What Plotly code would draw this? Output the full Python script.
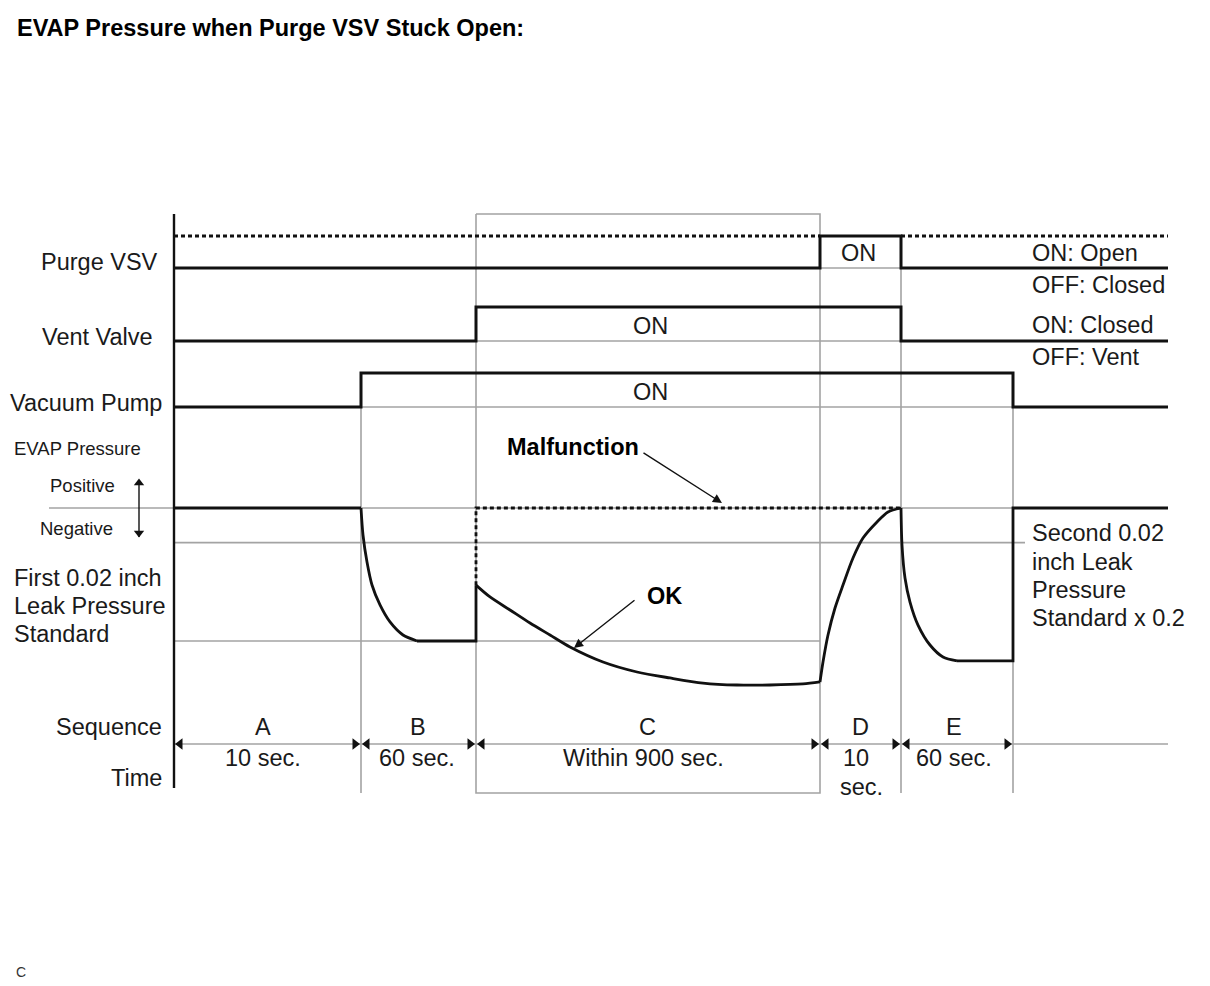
import plotly.graph_objects as go

# ---------------- data ----------------
# phase boundaries along the diagram's time axis (diagram units)
boundary_x = [174, 361, 476, 820, 901, 1013, 1168]
sequence = ["A", "B", "C", "D", "E"]
durations = ["10 sec.", "60 sec.", "Within 900 sec.", "10", "60 sec."]
seq_label_x = [263, 418, 647, 860, 954]
dur_label_x = [263, 417, 643, 856, 954]

# on/off states per interval (A, B, C, D, E, after E)
purge_vsv = [0, 0, 0, 1, 0, 0]
vent_valve = [0, 0, 1, 1, 0, 0]
vacuum_pump = [0, 1, 1, 1, 1, 0]

# EVAP pressure (relative: 0 = atmospheric, -1 = first 0.02 inch leak standard)
evap_a_x = [174, 361]
evap_a_p = [0, 0]
evap_b_x = [361, 363, 367, 372, 380, 390, 403, 417]
evap_b_p = [0, -0.203, -0.406, -0.579, -0.729, -0.857, -0.955, -1.0]
evap_b_hold_x = [417, 476, 476]
evap_b_hold_p = [-1.0, -1.0, -0.58]
evap_c_x = [476, 490, 510, 530, 550, 570, 603, 637, 670, 703, 737, 770, 803, 820]
evap_c_p = [-0.58, -0.669, -0.767, -0.865, -0.955, -1.045, -1.158, -1.233, -1.278, -1.316, -1.331, -1.331, -1.323, -1.308]
evap_d_x = [820, 823, 828, 835, 843, 853, 863, 877, 888, 901]
evap_d_p = [-1.308, -1.158, -0.955, -0.752, -0.579, -0.376, -0.226, -0.105, -0.03, 0]
evap_e_x = [901, 902, 905, 910, 918, 930, 943, 957]
evap_e_p = [0, -0.278, -0.526, -0.707, -0.88, -1.03, -1.12, -1.15]
evap_e_hold_x = [957, 1013, 1013, 1168]
evap_e_hold_p = [-1.15, -1.15, 0, 0]
evap_malf_x = [476, 476, 901]
evap_malf_p = [-0.58, 0, 0]
evap_ref_levels = [0, -0.26, -1.0]          # zero, second, first standard lines
evap_ref_ends = [1168, 1025, 820]

# ---------------- layout constants ----------------
BLACK = "#111111"
GRAY = "#a3a3a3"
FONT = "Liberation Sans, Arial, sans-serif"
FS = 23.5
FS_SMALL = 18.5
rows = {"purge": (268, 236), "vent": (341, 307), "pump": (407, 373)}  # (low y, high y)
EVAP_ZERO_Y = 508
EVAP_SCALE = 133
SEQ_Y = 744
X0 = boundary_x[0]
X_END = boundary_x[-1]


def evap_y(p):
    return EVAP_ZERO_Y - p * EVAP_SCALE


def step_xy(states, low, high):
    xs, ys = [], []
    for i, s in enumerate(states):
        y = high if s else low
        xs += [boundary_x[i], boundary_x[i + 1]]
        ys += [y, y]
    return xs, ys


fig = go.Figure()


def line(xs, ys, color=BLACK, width=3, dash=None, shape="linear"):
    ld = dict(color=color, width=width, dash=dash, shape=shape)
    if shape == "spline":
        ld["smoothing"] = 0.8
    fig.add_trace(go.Scatter(x=xs, y=ys, mode="lines", hoverinfo="skip", line=ld))


# gray frame lines
BOT = 793
line([boundary_x[2], boundary_x[2], boundary_x[3], boundary_x[3], boundary_x[2]],
     [214, BOT, BOT, 214, 214], GRAY, 1.6)
line([boundary_x[1], boundary_x[1]], [rows["pump"][0], BOT], GRAY, 1.6)
line([boundary_x[4], boundary_x[4]], [rows["purge"][1], BOT], GRAY, 1.6)
line([boundary_x[5], boundary_x[5]], [rows["pump"][1], BOT], GRAY, 1.6)

# gray low-level references where signals are ON
for key, states in (("purge", purge_vsv), ("vent", vent_valve), ("pump", vacuum_pump)):
    on = [i for i, s in enumerate(states) if s]
    line([boundary_x[on[0]], boundary_x[on[-1] + 1]], [rows[key][0]] * 2, GRAY, 1.6)

# EVAP reference lines
line([49, evap_ref_ends[0]], [evap_y(evap_ref_levels[0])] * 2, GRAY, 1.6)
for lv, xe in zip(evap_ref_levels[1:], evap_ref_ends[1:]):
    line([X0, xe], [evap_y(lv)] * 2, GRAY, 1.6)

# sequence line
line([X0, X_END], [SEQ_Y, SEQ_Y], GRAY, 1.6)

# purge VSV dotted "open" reference
line([X0, boundary_x[3]], [rows["purge"][1]] * 2, BLACK, 2.8, "4px,3px")
line([boundary_x[4], X_END], [rows["purge"][1]] * 2, BLACK, 2.8, "4px,3px")

# signals
for key, states in (("purge", purge_vsv), ("vent", vent_valve), ("pump", vacuum_pump)):
    xs, ys = step_xy(states, *rows[key])
    line(xs, ys)

# EVAP malfunction (dotted) and OK curve
line(evap_malf_x, [evap_y(p) for p in evap_malf_p], BLACK, 2.8, "4px,3px")
for xs, ps, shp in ((evap_a_x, evap_a_p, "linear"), (evap_b_x, evap_b_p, "spline"),
                    (evap_b_hold_x, evap_b_hold_p, "linear"), (evap_c_x, evap_c_p, "spline"),
                    (evap_d_x, evap_d_p, "spline"), (evap_e_x, evap_e_p, "spline"),
                    (evap_e_hold_x, evap_e_hold_p, "linear")):
    line(xs, [evap_y(p) for p in ps], BLACK, 2.8, shape=shp)

# main vertical axis
line([X0, X0], [214, 788], BLACK, 2.4)

# sequence arrowheads
lx, rx = [], []
for i in range(len(sequence)):
    lx.append(boundary_x[i] + 6)
    rx.append(boundary_x[i + 1] - 6)
fig.add_trace(go.Scatter(x=lx, y=[SEQ_Y] * len(lx), mode="markers", hoverinfo="skip",
                         marker=dict(symbol="triangle-left", size=10, color=BLACK)))
fig.add_trace(go.Scatter(x=rx, y=[SEQ_Y] * len(rx), mode="markers", hoverinfo="skip",
                         marker=dict(symbol="triangle-right", size=10, color=BLACK)))

# positive / negative arrow
line([139, 139], [480, 537], BLACK, 1.4)
fig.add_trace(go.Scatter(x=[139, 139], y=[483, 533], mode="markers", hoverinfo="skip",
                         marker=dict(symbol=["triangle-up", "triangle-down"], size=9, color=BLACK)))

anns = []


def text(t, x, y, size=FS, anchor="left", bold=False, color="#1a1a1a"):
    anns.append(dict(x=x, y=y, xref="x", yref="y", text=f"<b>{t}</b>" if bold else t,
                     showarrow=False, xanchor=anchor, yanchor="middle",
                     font=dict(family=FONT, size=size, color=color)))


text("EVAP Pressure when Purge VSV Stuck Open:", 15, 28, 23.5, bold=True, color="#000")
text("Purge VSV", 160, 262, anchor="right")
text("Vent Valve", 155, 337, anchor="right")
text("Vacuum Pump", 164, 403, anchor="right")
text("EVAP Pressure", 12, 448, FS_SMALL)
text("Positive", 117, 485, FS_SMALL, anchor="right")
text("Negative", 115, 528, FS_SMALL, anchor="right")
text("First 0.02 inch", 12, 578)
text("Leak Pressure", 12, 606)
text("Standard", 12, 634)
text("ON", 858, 253, anchor="center")
text("ON", 650, 326, anchor="center")
text("ON", 650, 392, anchor="center")
text("ON: Open", 1030, 253)
text("OFF: Closed", 1030, 285)
text("ON: Closed", 1030, 325)
text("OFF: Vent", 1030, 357)
text("Second 0.02", 1030, 533)
text("inch Leak", 1030, 562)
text("Pressure", 1030, 590)
text("Standard x 0.2", 1030, 618)
text("Malfunction", 505, 447, FS, bold=True, color="#000")
text("OK", 645, 596, FS, bold=True, color="#000")
text("Sequence", 164, 727, anchor="right")
text("Time", 164, 778, anchor="right")
for s, x in zip(sequence, seq_label_x):
    text(s, x, 727, anchor="center")
for d, x in zip(durations, dur_label_x):
    text(d, x, 758, anchor="center")
text("sec.", 861, 787, anchor="center")
text("C", 14, 972, 14, color="#333")

# callout arrows
anns.append(dict(x=722, y=503, ax=642, ay=452, xref="x", yref="y", axref="x", ayref="y",
                 text="", showarrow=True, arrowhead=2, arrowsize=1.3, arrowwidth=1.4, arrowcolor=BLACK))
anns.append(dict(x=574, y=648, ax=636, ay=599, xref="x", yref="y", axref="x", ayref="y",
                 text="", showarrow=True, arrowhead=2, arrowsize=1.3, arrowwidth=1.4, arrowcolor=BLACK))

# the page body has an 8px margin; shrink the figure and shift the ranges so that
# diagram units line up with window pixels
PAD = 8
fig.update_layout(
    width=1210 - PAD, height=986 - PAD, autosize=False,
    margin=dict(l=0, r=0, t=0, b=0),
    paper_bgcolor="white", plot_bgcolor="white",
    showlegend=False, annotations=anns,
    xaxis=dict(range=[PAD, 1210], visible=False, fixedrange=True),
    yaxis=dict(range=[986, PAD], visible=False, fixedrange=True),
)
fig.write_html("out.html")
